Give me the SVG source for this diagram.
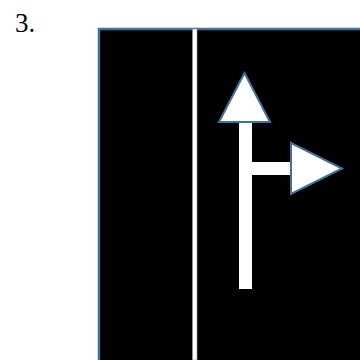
<svg xmlns="http://www.w3.org/2000/svg" width="360" height="360" viewBox="0 0 360 360">
<style>
.lane{fill:#000;stroke:#41719C;stroke-width:2.5}
.head{fill:#fff;stroke:#41719C;stroke-width:2;stroke-linejoin:miter}
.bar{fill:#fff}
.num{font-family:'Liberation Serif','Times New Roman',serif;font-size:27px;fill:#000}
</style>
<rect width="360" height="360" fill="#fff"/>
<text class="num" x="15" y="32">3.</text>
<g id="road">
<rect class="lane" x="99" y="29" width="270" height="340"/>
<rect x="192.5" y="29" width="4.5" height="331" fill="#fff" stroke="#999" stroke-width="0.6"/>
</g>
<g id="arrow">
<rect class="bar" x="239" y="120" width="13" height="169"/>
<rect class="bar" x="251" y="162" width="42" height="13"/>
<polygon class="head" points="244.5,73 270,122 219,122"/>
<polygon class="head" points="291,143 342,168.5 291,194"/>
</g>
</svg>
